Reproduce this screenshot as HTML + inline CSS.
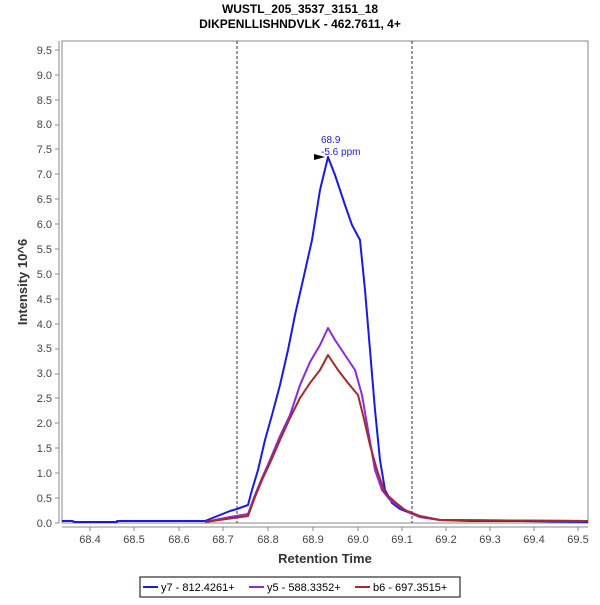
<!DOCTYPE html><html><head><style>body{margin:0;background:#fff}svg{font-family:"Liberation Sans",sans-serif}</style></head><body>
<svg width="600" height="600" xmlns="http://www.w3.org/2000/svg">
<rect width="600" height="600" fill="#fff"/>
<text x="300" y="13" text-anchor="middle" font-size="12" font-weight="bold">WUSTL_205_3537_3151_18</text>
<text x="300" y="28" text-anchor="middle" font-size="12" font-weight="bold">DIKPENLLISHNDVLK - 462.7611, 4+</text>
<rect x="62" y="41" width="526" height="482" fill="#fff" stroke="#888"/>
<line x1="59" y1="41" x2="59" y2="523" stroke="#888"/>
<line x1="62" y1="527" x2="588" y2="527" stroke="#888"/>
<g font-size="11" fill="#444" text-anchor="end" stroke="none">
<text x="52" y="527">0.0</text><text x="52" y="502">0.5</text><text x="52" y="477">1.0</text><text x="52" y="452">1.5</text><text x="52" y="427">2.0</text><text x="52" y="402">2.5</text><text x="52" y="377">3.0</text><text x="52" y="352">3.5</text><text x="52" y="328">4.0</text><text x="52" y="303">4.5</text><text x="52" y="278">5.0</text><text x="52" y="253">5.5</text><text x="52" y="228">6.0</text><text x="52" y="203">6.5</text><text x="52" y="178">7.0</text><text x="52" y="153">7.5</text><text x="52" y="128">8.0</text><text x="52" y="104">8.5</text><text x="52" y="79">9.0</text><text x="52" y="54">9.5</text>
</g>
<g stroke="#888"><line x1="55" x2="59" y1="523" y2="523"/><line x1="55" x2="59" y1="498" y2="498"/><line x1="55" x2="59" y1="473" y2="473"/><line x1="55" x2="59" y1="448" y2="448"/><line x1="55" x2="59" y1="423" y2="423"/><line x1="55" x2="59" y1="398" y2="398"/><line x1="55" x2="59" y1="374" y2="374"/><line x1="55" x2="59" y1="349" y2="349"/><line x1="55" x2="59" y1="324" y2="324"/><line x1="55" x2="59" y1="299" y2="299"/><line x1="55" x2="59" y1="274" y2="274"/><line x1="55" x2="59" y1="249" y2="249"/><line x1="55" x2="59" y1="224" y2="224"/><line x1="55" x2="59" y1="199" y2="199"/><line x1="55" x2="59" y1="174" y2="174"/><line x1="55" x2="59" y1="149" y2="149"/><line x1="55" x2="59" y1="125" y2="125"/><line x1="55" x2="59" y1="100" y2="100"/><line x1="55" x2="59" y1="75" y2="75"/><line x1="55" x2="59" y1="50" y2="50"/>
<line x1="90" x2="90" y1="527" y2="531"/><line x1="134" x2="134" y1="527" y2="531"/><line x1="179" x2="179" y1="527" y2="531"/><line x1="223" x2="223" y1="527" y2="531"/><line x1="268" x2="268" y1="527" y2="531"/><line x1="313" x2="313" y1="527" y2="531"/><line x1="358" x2="358" y1="527" y2="531"/><line x1="402" x2="402" y1="527" y2="531"/><line x1="446" x2="446" y1="527" y2="531"/><line x1="490" x2="490" y1="527" y2="531"/><line x1="534" x2="534" y1="527" y2="531"/><line x1="578" x2="578" y1="527" y2="531"/></g>
<g font-size="11" fill="#444" text-anchor="middle">
<text x="90" y="543">68.4</text><text x="134" y="543">68.5</text><text x="179" y="543">68.6</text><text x="223" y="543">68.7</text><text x="268" y="543">68.8</text><text x="313" y="543">68.9</text><text x="358" y="543">69.0</text><text x="402" y="543">69.1</text><text x="446" y="543">69.2</text><text x="490" y="543">69.3</text><text x="534" y="543">69.4</text><text x="578" y="543">69.5</text>
</g>
<text x="325" y="563" text-anchor="middle" font-size="13" font-weight="bold" fill="#333">Retention Time</text>
<text transform="translate(27,282) rotate(-90)" text-anchor="middle" font-size="13" font-weight="bold" fill="#333">Intensity 10^6</text>
<line x1="237" y1="41" x2="237" y2="523" stroke="#333" stroke-dasharray="3,2"/>
<line x1="412" y1="41" x2="412" y2="523" stroke="#333" stroke-dasharray="3,2"/>
<g fill="none" stroke-width="2" stroke-linejoin="round">
<polyline stroke="#1a1ae6" points="62,521 72,521 75,522 117,522 117,521 205,521 215,517 230,511 237,509 248,505 252,490 258,470 265,440 272,415 280,385 288,350 295,315 303,280 312,240 320,190 328,157 335,175 345,205 352,225 360,240 365,290 370,350 375,410 380,460 385,490 392,503 400,509 410,513 420,517 440,520 470,521 520,521 588,522"/>
<polyline stroke="#8a2be2" points="205,522 215,520 230,517 248,514 255,495 262,478 270,460 280,436 290,415 300,385 310,362 320,345 328,328 335,340 345,355 355,370 362,395 368,430 375,470 382,490 390,500 400,507 410,513 420,517 440,520 588,521"/>
<polyline stroke="#a52a2a" points="205,522 248,516 255,497 262,480 270,463 280,440 290,418 300,398 310,383 320,370 328,355 338,370 348,383 358,395 363,415 370,445 377,470 385,493 395,502 405,510 420,516 440,520 588,521"/>
</g>
<text x="321" y="143" font-size="10" fill="#1a1ae6">68.9</text>
<text x="321" y="155" font-size="10" fill="#1a1ae6">-5.6 ppm</text>
<polygon points="314,154 325,157 314,160" fill="#000"/>
<rect x="140" y="577" width="320" height="20" fill="#fff" stroke="#000"/>
<line x1="143" y1="587" x2="158" y2="587" stroke="#1a1ae6" stroke-width="2"/>
<text x="161" y="591" font-size="11">y7 - 812.4261+</text>
<line x1="249" y1="587" x2="264" y2="587" stroke="#8a2be2" stroke-width="2"/>
<text x="267" y="591" font-size="11">y5 - 588.3352+</text>
<line x1="355" y1="587" x2="370" y2="587" stroke="#a52a2a" stroke-width="2"/>
<text x="373" y="591" font-size="11">b6 - 697.3515+</text>
</svg></body></html>
